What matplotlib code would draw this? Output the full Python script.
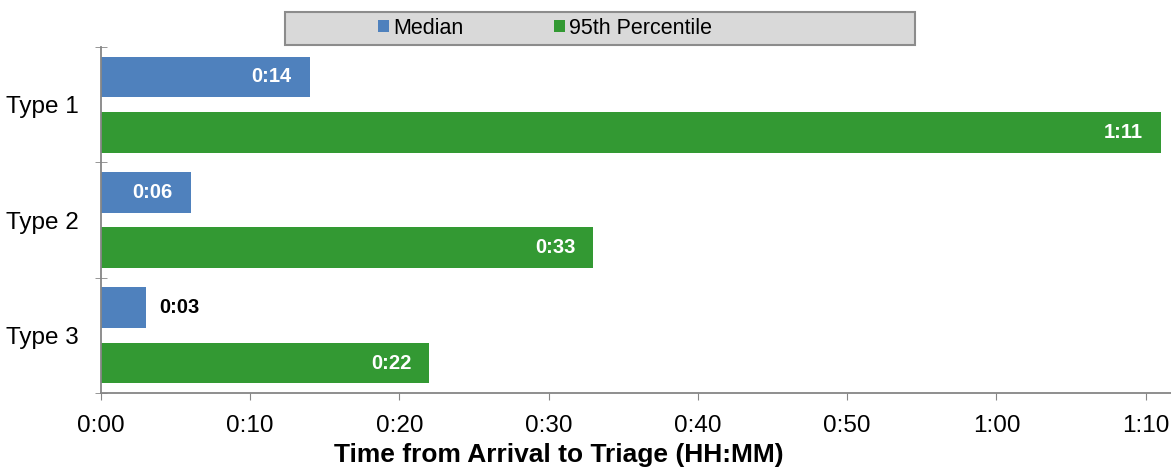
import matplotlib.pyplot as plt
from matplotlib.patches import Rectangle
import numpy as np

plt.rcParams['font.family'] = ['Liberation Sans', 'DejaVu Sans']

categories = ["Type 1", "Type 2", "Type 3"]
median_min = [14, 6, 3]
p95_min = [71, 33, 22]
series_names = ["Median", "95th Percentile"]
xticks_min = [0, 10, 20, 30, 40, 50, 60, 70]

blue = "#4F81BD"
green = "#339933"
grey = "#868686"


def hhmm(m):
    return f"{int(m) // 60}:{int(m) % 60:02d}"


fig = plt.figure(figsize=(11.71, 4.73), dpi=100)
ax = fig.add_axes([101 / 1171, 80 / 473, 1 - 101 / 1171, 346 / 473])

y = np.arange(len(categories))
h = 0.355
off = 0.24
b1 = ax.barh(y - off, median_min, height=h, color=blue, label=series_names[0])
b2 = ax.barh(y + off, p95_min, height=h, color=green, label=series_names[1])

xmax = 71.7
ax.set_xlim(0, xmax)
ax.set_ylim(2.5, -0.5)

# data labels: inside end in white, outside in black when the bar is too short
for bars in (b1, b2):
    for rect in bars:
        w = rect.get_width()
        yc = rect.get_y() + rect.get_height() / 2
        if w >= 5:
            ax.annotate(hhmm(w), (w, yc), xytext=(-13, 0), textcoords="offset points",
                        ha="right", va="center", color="white", fontsize=14.5, fontweight="bold")
        else:
            ax.annotate(hhmm(w), (w, yc), xytext=(10, 0), textcoords="offset points",
                        ha="left", va="center", color="black", fontsize=14.5, fontweight="bold")

ax.set_xticks(xticks_min)
ax.set_xticklabels([hhmm(t) for t in xticks_min], fontsize=17.5)
ax.tick_params(axis="x", direction="out", length=5, color=grey, pad=11)

ax.set_yticks(y)
ax.set_yticklabels(categories, fontsize=17.5)
ax.set_yticks([-0.5, 0.5, 1.5, 2.5], minor=True)
ax.tick_params(axis="y", which="major", length=0, pad=16)
ax.tick_params(axis="y", which="minor", direction="inout", length=9, color=grey)

for s in ("top", "right"):
    ax.spines[s].set_visible(False)
for s in ("left", "bottom"):
    ax.spines[s].set_color(grey)
    ax.spines[s].set_linewidth(1.3)

fig.text(559 / 1171, 1 - 455 / 473, "Time from Arrival to Triage (HH:MM)",
         fontsize=19, fontweight="bold", ha="center", va="center")

# legend box
fig.patches.append(Rectangle((285 / 1171, 1 - 45 / 473), 630 / 1171, 33 / 473,
                             transform=fig.transFigure, facecolor="#D9D9D9",
                             edgecolor="#8C8C8C", linewidth=1.5, zorder=0))
fig.legend(handles=[b1, b2], loc="center", bbox_to_anchor=(545 / 1171, 1 - 28.5 / 473),
           ncol=2, frameon=False, fontsize=15.5, handlelength=0.5, handleheight=0.5,
           handletextpad=0.2, columnspacing=4.2, borderpad=0)

fig.savefig("out.png", dpi=100)
